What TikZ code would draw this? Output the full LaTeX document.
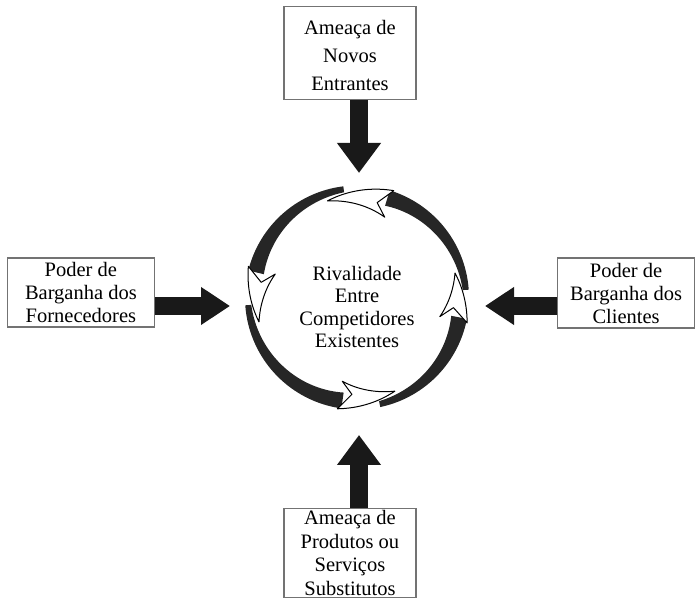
\documentclass[tikz,border=0pt]{standalone}
\usepackage{fontspec}
\setmainfont{Liberation Serif}
\usetikzlibrary{arrows.meta,positioning}

\begin{document}
\begin{tikzpicture}[x=1pt,y=1pt]
\tikzset{
    %ramka
    caixa/.style={
           rectangle,
           inner sep=2pt,
           draw=black!55, line width=1.2pt,
           fill=white,
           align=center,
           font=\fontsize{20.5}{23}\selectfont},
    %strzalka gruba
    seta/.style={
           line width=18pt, draw=black!90,
           -{Triangle[length=30pt,width=42pt]}},
    setah/.style={
           line width=18pt, draw=black!90,
           -{Triangle[length=29pt,width=36pt]}},
    %pierscien
    pas/.style={fill=black!85},
    glowa/.style={fill=white, draw=black, line width=1pt, line join=round}
}
\useasboundingbox (0,0) rectangle (697,600);

%NODy
\coordinate (srodek) at (357,302.5);
\node(rival)   [font=\fontsize{20.5}{22.5}\selectfont, align=center] at (357,293)
               {Rivalidade\\Entre\\Competidores\\Existentes};

\node(novos)   [caixa,above=197.5pt of srodek,xshift=-7pt,minimum width=132pt,minimum height=93pt,
                font=\fontsize{20.5}{28}\selectfont]
               {\rule{0pt}{19pt}Ameaça de\\Novos\\Entrantes};
\node(forn)    [caixa,left=202pt of srodek,yshift=5pt,minimum width=147pt,minimum height=69pt]
               {Poder de\\Barganha dos\\Fornecedores};
\node(cli)     [caixa,right=200pt of srodek,yshift=4.5pt,minimum width=137pt,minimum height=70pt]
               {Poder de\\Barganha dos\\Clientes};
\node(subst)   [caixa,below=210.5pt of srodek,xshift=-7pt,minimum width=132pt,
                font=\fontsize{20.5}{23.5}\selectfont]
               {Ameaça de\\Produtos ou\\Serviços\\Substitutos};

%groty strzalek
\coordinate (gora)  at (359,427);
\coordinate (dol)   at (359,165);
\coordinate (lewo)  at (230,294);
\coordinate (prawo) at (485,294);

%pierscien
\begin{scope}[shift={(srodek)}]
\fill[pas] plot[domain=4:73,samples=40] (\x:112) -- plot[domain=73:4,samples=40] (\x:{106-10*(\x-4)/69}) -- cycle;
\fill[pas] plot[domain=97:166,samples=40] (\x:112) -- plot[domain=166:97,samples=40] (\x:{106-10*(\x-97)/69}) -- cycle;
\fill[pas] plot[domain=184:262,samples=40] (\x:112) -- plot[domain=262:184,samples=40] (\x:{106-10*(\x-184)/78}) -- cycle;
\fill[pas] plot[domain=282:349,samples=40] (\x:112) -- plot[domain=349:282,samples=40] (\x:{106-10*(\x-282)/67}) -- cycle;
%groty bieli
\filldraw[glowa] plot[domain=71:107,samples=30] (\x:{113-12*(\x-71)/36}) -- plot[domain=107:71,samples=30] (\x:{101-16*(107-\x)/36}) -- (78:97) -- cycle;
\filldraw[glowa] plot[domain=164:194,samples=30] (\x:{113-12*(\x-164)/30}) -- plot[domain=194:164,samples=30] (\x:{101-16*(194-\x)/30}) -- (171:97) -- cycle;
\filldraw[glowa] plot[domain=260:292,samples=30] (\x:{113-12*(\x-260)/32}) -- plot[domain=292:260,samples=30] (\x:{101-16*(292-\x)/32}) -- (267:97) -- cycle;
\filldraw[glowa] plot[domain=347:374,samples=30] (\x:{113-12*(\x-347)/27}) -- plot[domain=374:347,samples=30] (\x:{101-16*(374-\x)/27}) -- (354:97) -- cycle;
\end{scope}

%Strzalki
\draw[seta]  (novos.south -| gora) -- (gora);
\draw[seta]  (subst.north -| dol) -- (dol);
\draw[setah] (forn.east |- lewo) -- (lewo);
\draw[setah] (cli.west |- prawo) -- (prawo);
\end{tikzpicture}
\end{document}
